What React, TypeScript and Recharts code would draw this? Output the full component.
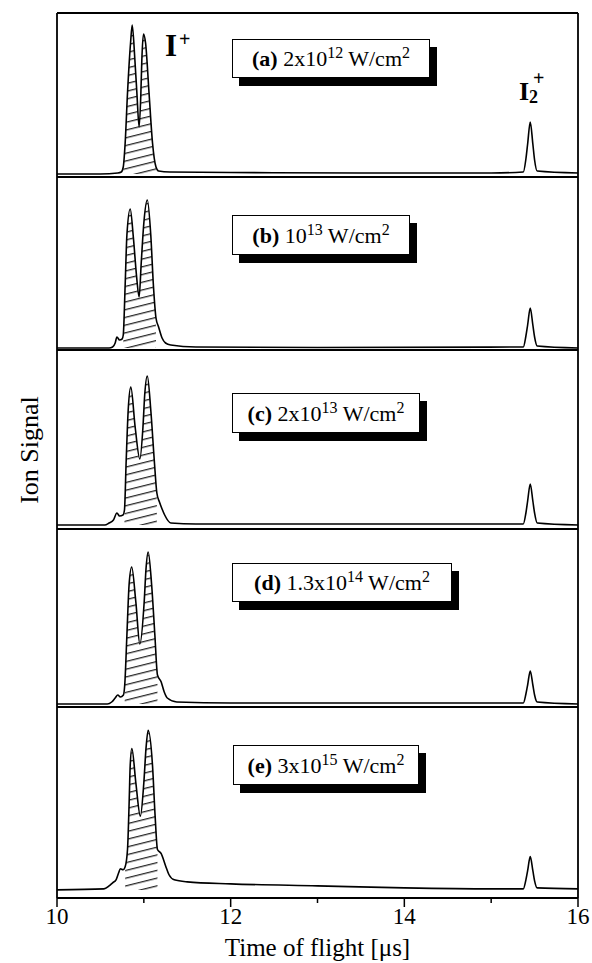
import React from "react";
import { ComposedChart, Line, Area, XAxis, YAxis, ReferenceLine } from "recharts";

// time of flight in µs and ion signal (arb. units) for each intensity
const TIME_A = [10.0, 10.5, 10.7, 10.74, 10.763, 10.785, 10.812, 10.847, 10.866, 10.897, 10.92, 10.946, 10.966, 10.977, 10.996, 11.02, 11.06, 11.1, 11.14, 11.17, 11.3, 12, 13.5, 15.0, 15.37, 15.4, 15.42, 15.45, 15.48, 15.5, 15.53, 16];
const SIGNAL_A = [0, 0, 1, 2, 7, 31, 81, 131, 149, 114, 81, 47, 81, 114, 140, 131, 81, 31, 7, 3, 2, 1.5, 1, 1, 2, 15, 30, 52, 30, 14, 3, 1];

const TIME_B = [10.0, 10.6, 10.64, 10.67, 10.69, 10.72, 10.75, 10.763, 10.785, 10.805, 10.843, 10.88, 10.915, 10.946, 10.97, 11.0, 11.04, 11.08, 11.11, 11.14, 11.17, 11.21, 11.25, 11.31, 11.6, 13, 15.37, 15.4, 15.42, 15.45, 15.48, 15.5, 15.53, 16];
const SIGNAL_B = [0, 0, 1, 5, 11, 8, 9, 13, 63, 113, 139, 110, 73, 51, 85, 125, 148, 113, 63, 30, 21, 10, 5, 3, 1, 0.5, 1, 12, 23, 40, 23, 11, 2, 0];

const TIME_C = [10.0, 10.55, 10.6, 10.65, 10.69, 10.72, 10.76, 10.777, 10.797, 10.82, 10.85, 10.9, 10.954, 10.99, 11.01, 11.04, 11.08, 11.12, 11.15, 11.18, 11.21, 11.24, 11.31, 11.6, 15.37, 15.4, 15.42, 15.45, 15.48, 15.5, 15.53, 16];
const SIGNAL_C = [0, 0, 2, 5, 12, 9, 10, 15, 65, 115, 138, 98, 66, 98, 130, 149, 115, 65, 32, 23, 16, 10, 2, 1, 1, 12, 24, 41, 24, 12, 2, 0];

const TIME_D = [10.0, 10.58, 10.63, 10.67, 10.7, 10.73, 10.765, 10.78, 10.805, 10.83, 10.86, 10.908, 10.954, 11.004, 11.025, 11.05, 11.09, 11.127, 11.157, 11.2, 11.235, 11.27, 11.38, 12, 15.37, 15.4, 15.42, 15.45, 15.48, 15.5, 15.53, 16];
const SIGNAL_D = [0, 0, 2, 6, 9, 7, 9, 19, 69, 119, 137, 102, 60, 102, 135, 152, 119, 69, 29, 22, 12, 6, 2, 1, 1, 10, 19, 33, 19, 9, 2, 0];

const TIME_E = [10.0, 10.54, 10.6, 10.64, 10.68, 10.71, 10.73, 10.76, 10.785, 10.812, 10.832, 10.843, 10.862, 10.908, 10.96, 11.0, 11.025, 11.05, 11.1, 11.13, 11.157, 11.2, 11.25, 11.29, 11.35, 11.5, 12, 13, 14, 15, 15.37, 15.4, 15.42, 15.45, 15.48, 15.5, 15.53, 16];
const SIGNAL_E = [0, 1, 4, 7, 10, 17, 21, 20, 23, 40, 90, 123, 140, 106, 73, 106, 140, 158, 123, 73, 40, 36, 24, 15, 10, 8, 6, 4, 2, 1, 1, 10, 19, 33, 19, 9, 2, 1];

// hatched I+ region, start/end in µs
const HATCH_A = [10.763, 11.14];
const HATCH_B = [10.763, 11.14];
const HATCH_C = [10.777, 11.15];
const HATCH_D = [10.78, 11.157];
const HATCH_E = [10.785, 11.157];

const LABEL_EXP = ["12", "13", "13", "14", "15"];
const LABEL_MANTISSA = ["2x", "", "2x", "1.3x", "3x"];
const X_TICKS = [10, 11, 12, 13, 14, 15, 16];

const FONT = '"Liberation Serif", "Times New Roman", serif';

const PANELS = [
  { id: "a", time: TIME_A, signal: SIGNAL_A, hatch: HATCH_A, top: 13, bottom: 177, base: 174, box: { left: 232, top: 39, width: 198, height: 39 } },
  { id: "b", time: TIME_B, signal: SIGNAL_B, hatch: HATCH_B, top: 177, bottom: 350, base: 348, box: { left: 232, top: 215, width: 178, height: 40 } },
  { id: "c", time: TIME_C, signal: SIGNAL_C, hatch: HATCH_C, top: 350, bottom: 529, base: 525, box: { left: 232, top: 393, width: 188, height: 40 } },
  { id: "d", time: TIME_D, signal: SIGNAL_D, hatch: HATCH_D, top: 529, bottom: 707, base: 704, box: { left: 232, top: 563, width: 220, height: 39 } },
  { id: "e", time: TIME_E, signal: SIGNAL_E, hatch: HATCH_E, top: 707, bottom: 896, base: 888, box: { left: 233, top: 745, width: 186, height: 40 } },
];

const TopTick = (props: any) => {
  const { x, y, payload } = props;
  const len = payload.value % 2 === 0 ? 9 : 5;
  return <line x1={x} x2={x} y1={y} y2={y + len} stroke="#000" strokeWidth={1.5} />;
};

const BottomTick = (props: any) => {
  const { x, y, payload } = props;
  const major = payload.value % 2 === 0;
  return (
    <g>
      <line x1={x} x2={x} y1={y} y2={y + (major ? 9 : 5)} stroke="#000" strokeWidth={1.5} />
      {major && (
        <text x={x} y={y + 26} textAnchor="middle" fontSize={23} fontFamily={FONT} fill="#000">
          {payload.value}
        </text>
      )}
    </g>
  );
};

function Panel({ p, index }: { p: (typeof PANELS)[number]; index: number }) {
  const isFirst = index === 0;
  const isLast = index === PANELS.length - 1;
  const data = p.time.map((t, i) => ({
    t,
    signal: p.signal[i],
    hatch: t >= p.hatch[0] && t <= p.hatch[1] ? p.signal[i] : null,
  }));
  const yMin = -(p.bottom - p.base);
  const yMax = p.base - p.top;
  const axisH = isLast ? 64 : 0;
  const height = p.bottom - p.top + 4 + axisH;
  const patternId = `hatch-${p.id}`;
  return (
    <div style={{ position: "absolute", left: 0, top: p.top - 2 }}>
      <ComposedChart width={592} height={height} data={data} margin={{ top: 2, right: 14, bottom: isLast ? 0 : 2, left: 57 }}>
        <defs>
          <pattern id={patternId} width={30} height={7.5} patternUnits="userSpaceOnUse" patternTransform="rotate(-14)">
            <line x1={0} x2={30} y1={3.5} y2={3.5} stroke="#000" strokeWidth={1.1} />
          </pattern>
        </defs>
        {isLast ? (
          <XAxis
            dataKey="t"
            type="number"
            domain={[10, 16]}
            ticks={X_TICKS}
            orientation="bottom"
            height={axisH}
            axisLine={false}
            tickLine={false}
            tickSize={0}
            tickMargin={0}
            tick={<BottomTick />}
            interval={0}
            label={{ value: "Time of flight [μs]", position: "insideBottom", offset: 6, fontSize: 25, fontFamily: FONT, fill: "#000" }}
          />
        ) : isFirst ? (
          <XAxis
            dataKey="t"
            type="number"
            domain={[10, 16]}
            ticks={X_TICKS}
            orientation="top"
            mirror
            height={0}
            axisLine={false}
            tickLine={false}
            tickSize={0}
            tickMargin={0}
            tick={<TopTick />}
            interval={0}
          />
        ) : (
          <XAxis dataKey="t" type="number" domain={[10, 16]} hide />
        )}
        <YAxis type="number" domain={[yMin, yMax]} hide allowDataOverflow />
        <Area
          dataKey="hatch"
          type="monotone"
          stroke="none"
          fill={`url(#${patternId})`}
          fillOpacity={1}
          baseValue={0}
          isAnimationActive={false}
        />
        <Line dataKey="signal" type="monotone" stroke="#000" strokeWidth={1.6} dot={false} isAnimationActive={false} />
        {isFirst && <ReferenceLine y={yMax} stroke="#000" strokeWidth={1.8} />}
        <ReferenceLine y={yMin} stroke="#000" strokeWidth={1.8} />
        <ReferenceLine x={10} stroke="#000" strokeWidth={1.8} />
        <ReferenceLine x={16} stroke="#000" strokeWidth={1.8} />
      </ComposedChart>
    </div>
  );
}

const supStyle: React.CSSProperties = { fontSize: 16, verticalAlign: 8, lineHeight: 0 };

function IntensityBox({ p, index }: { p: (typeof PANELS)[number]; index: number }) {
  const b = p.box;
  return (
    <div
      style={{
        position: "absolute",
        left: b.left,
        top: b.top,
        width: b.width,
        height: b.height,
        boxSizing: "border-box",
        border: "1.5px solid #000",
        background: "#fff",
        boxShadow: "7px 8px 0 #000",
        fontFamily: FONT,
        fontSize: 22,
        lineHeight: `${b.height - 1}px`,
        textAlign: "center",
        whiteSpace: "nowrap",
      }}
    >
      <b>({p.id})</b> {LABEL_MANTISSA[index]}10<sup style={supStyle}>{LABEL_EXP[index]}</sup> W/cm
      <sup style={supStyle}>2</sup>
    </div>
  );
}

const glyph = (left: number, top: number, size: number): React.CSSProperties => ({
  position: "absolute",
  left,
  top,
  fontFamily: FONT,
  fontSize: size,
  fontWeight: "bold",
  lineHeight: 1,
});

export default function App() {
  return (
    <div style={{ position: "absolute", left: 0, top: 0, width: 592, height: 963, background: "#fff", overflow: "hidden" }}>
      {PANELS.map((p, i) => (
        <Panel key={p.id} p={p} index={i} />
      ))}
      {PANELS.map((p, i) => (
        <IntensityBox key={p.id} p={p} index={i} />
      ))}
      <div style={glyph(165, 30, 31)}>I</div>
      <div style={glyph(179, 29, 20)}>+</div>
      <div style={glyph(519, 79, 26)}>I</div>
      <div style={glyph(529, 88, 18)}>2</div>
      <div style={glyph(533, 68, 20)}>+</div>
      <div
        style={{
          position: "absolute",
          left: 30,
          top: 450,
          transform: "translate(-50%, -50%) rotate(-90deg)",
          fontFamily: FONT,
          fontSize: 26,
          whiteSpace: "nowrap",
        }}
      >
        Ion Signal
      </div>
    </div>
  );
}
